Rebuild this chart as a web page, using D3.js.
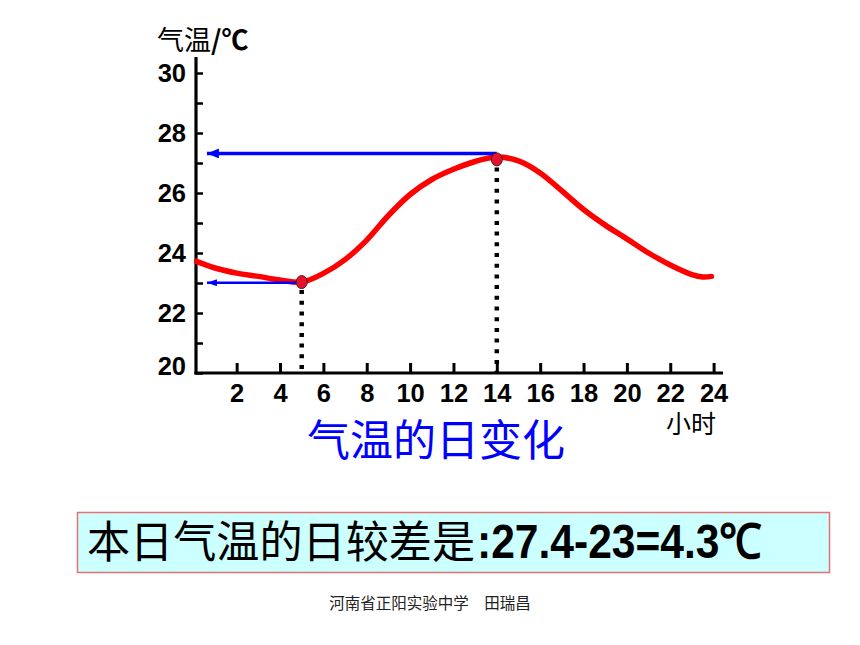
<!DOCTYPE html>
<html><head><meta charset="utf-8">
<script src="https://cdn.jsdelivr.net/npm/d3@7"></script>
<style>
html,body{margin:0;padding:0;background:#fff;}
svg{display:block;}
</style></head>
<body>
<script>
// ---- data ----
const hours = [0.15, 1, 2, 3, 4, 5, 6, 7, 8, 9, 10, 11, 12, 13, 14, 15, 16, 17, 18, 19, 20, 21, 22, 23, 23.5, 23.9];
const temps = [23.72, 23.5, 23.33, 23.22, 23.1, 23.03, 23.32, 23.78, 24.43, 25.25, 25.95, 26.45, 26.79, 27.05, 27.2, 27.07, 26.67, 26.07, 25.45, 24.93, 24.47, 24.0, 23.6, 23.28, 23.2, 23.22];
const xTicks = [2, 4, 6, 8, 10, 12, 14, 16, 18, 20, 22, 24];
const yTicks = [20, 21, 22, 23, 24, 25, 26, 27, 28, 29, 30];
const yLabels = [20, 22, 24, 26, 28, 30];
const minPoint = {hour: 5, temp: 23.03, arrowTemp: 23.01};
const maxPoint = {hour: 14, temp: 27.12, arrowTemp: 27.32};
const arrowEndHour = 0.63;
const yTitleCJK = "气温";
const yTitleUnit = "/℃";
const xTitle = "小时";
const chartTitle = "气温的日变化";
const boxTextCJK = "本日气温的日较差是";
const boxTextNum = ":27.4-23=4.3℃";
const footer = "河南省正阳实验中学　田瑞昌";

const W = 860, H = 645;
const svg = d3.select("body").append("svg").attr("width", W).attr("height", H);
svg.append("rect").attr("width", W).attr("height", H).attr("fill", "#fff");

const x = d3.scaleLinear().domain([0, 24]).range([193.3, 713.6]);
const y = d3.scaleLinear().domain([20, 30]).range([373, 73]);
const axisX = 196;
const cjk = "'Noto Sans CJK SC', sans-serif";
const latin = "'Liberation Sans', Arial, sans-serif";

const defs = svg.append("defs");
function marker(id, w, h) {
  defs.append("marker").attr("id", id).attr("viewBox", `0 0 ${w} ${h}`)
    .attr("refX", w).attr("refY", h/2).attr("markerWidth", w).attr("markerHeight", h)
    .attr("markerUnits", "userSpaceOnUse").attr("orient", "auto")
    .append("path").attr("d", `M0,0 L${w},${h/2} L0,${h} Z`).attr("fill", "#0000ff");
}
marker("arrBig", 12, 10);
marker("arrSmall", 10, 7);

// y axis
const yAxis = d3.axisLeft(y).tickValues(yTicks).tickSize(-7).tickPadding(10)
  .tickFormat(d => yLabels.includes(d) ? d : "");
const gy = svg.append("g").attr("transform", `translate(${axisX},0)`).call(yAxis);
gy.select(".domain").remove();
gy.selectAll(".tick line").attr("stroke", "#000").attr("stroke-width", 2.5);
gy.selectAll(".tick text").attr("font-family", latin).attr("font-weight", "bold")
  .attr("font-size", 25.5).attr("fill", "#000")
  .attr("dy", d => d === 20 ? "0.05em" : "0.35em");
svg.append("line").attr("x1", axisX).attr("x2", axisX).attr("y1", 57).attr("y2", y(20) + 1.5)
  .attr("stroke", "#000").attr("stroke-width", 3.2);

// x axis
const xAxis = d3.axisBottom(x).tickValues(xTicks).tickSize(-10).tickPadding(11);
const gx = svg.append("g").attr("transform", `translate(0,${y(20)})`).call(xAxis);
gx.select(".domain").remove();
gx.selectAll(".tick line").attr("stroke", "#000").attr("stroke-width", 3);
gx.selectAll(".tick text").attr("font-family", latin).attr("font-weight", "bold")
  .attr("font-size", 25.5).attr("fill", "#000");
svg.append("line").attr("x1", axisX - 1.5).attr("x2", 723).attr("y1", y(20)).attr("y2", y(20))
  .attr("stroke", "#000").attr("stroke-width", 3.2);

// axis titles
const yt = svg.append("text").attr("y", 50).attr("fill", "#000");
yt.append("tspan").attr("x", 157).attr("font-family", cjk).attr("font-size", 27).text(yTitleCJK);
yt.append("tspan").attr("font-family", cjk).attr("font-weight", "bold").attr("font-size", 27).text(yTitleUnit);
svg.append("text").attr("x", 666).attr("y", 433).attr("font-family", cjk)
  .attr("font-size", 25).attr("fill", "#000").text(xTitle);

// dotted drop lines
[minPoint, maxPoint].forEach(p => {
  svg.append("line").attr("x1", x(p.hour)).attr("x2", x(p.hour))
    .attr("y1", y(p.temp) + 8).attr("y2", y(20) - 1)
    .attr("stroke", "#000").attr("stroke-width", 4.5).attr("stroke-dasharray", "4,6.7");
});

// curve
const line = d3.line().x((d, i) => x(hours[i])).y(d => y(d)).curve(d3.curveCatmullRom.alpha(0.5));
svg.append("path").attr("d", line(temps)).attr("fill", "none")
  .attr("stroke", "#ff0000").attr("stroke-width", 5.5).attr("stroke-linecap", "round");

// arrows
svg.append("line").attr("x1", x(maxPoint.hour)).attr("x2", x(arrowEndHour))
  .attr("y1", y(maxPoint.arrowTemp)).attr("y2", y(maxPoint.arrowTemp))
  .attr("stroke", "#0000ff").attr("stroke-width", 3.5).attr("marker-end", "url(#arrBig)");
svg.append("line").attr("x1", x(minPoint.hour)).attr("x2", x(arrowEndHour))
  .attr("y1", y(minPoint.arrowTemp)).attr("y2", y(minPoint.arrowTemp))
  .attr("stroke", "#0000ff").attr("stroke-width", 2.5).attr("marker-end", "url(#arrSmall)");

// dots
[minPoint, maxPoint].forEach(p => {
  svg.append("ellipse").attr("cx", x(p.hour)).attr("cy", y(p.temp)).attr("rx", 5.5).attr("ry", 6.5)
    .attr("fill", "#e8112d").attr("stroke", "#4a2020").attr("stroke-width", 1);
});

// chart title
svg.append("text").attr("x", 307).attr("y", 456).attr("font-family", cjk)
  .attr("font-size", 43).attr("fill", "#0000ff").text(chartTitle);

// result box
svg.append("rect").attr("x", 77.5).attr("y", 512.5).attr("width", 752).attr("height", 60)
  .attr("fill", "#ccffff").attr("stroke", "#e87070").attr("stroke-width", 1.5);
const bt = svg.append("text").attr("y", 558).attr("fill", "#000");
bt.append("tspan").attr("x", 87).attr("font-family", cjk).attr("font-size", 44)
  .attr("textLength", 388).attr("lengthAdjust", "spacingAndGlyphs").text(boxTextCJK);
bt.append("tspan").attr("x", 477).attr("font-family", latin).attr("font-weight", "bold").attr("font-size", 48)
  .attr("textLength", 285).attr("lengthAdjust", "spacingAndGlyphs").text(boxTextNum);

// footer
svg.append("text").attr("x", 430).attr("y", 609).attr("text-anchor", "middle")
  .attr("font-family", cjk).attr("font-size", 15.5).attr("fill", "#222").text(footer);
</script>
</body></html>
